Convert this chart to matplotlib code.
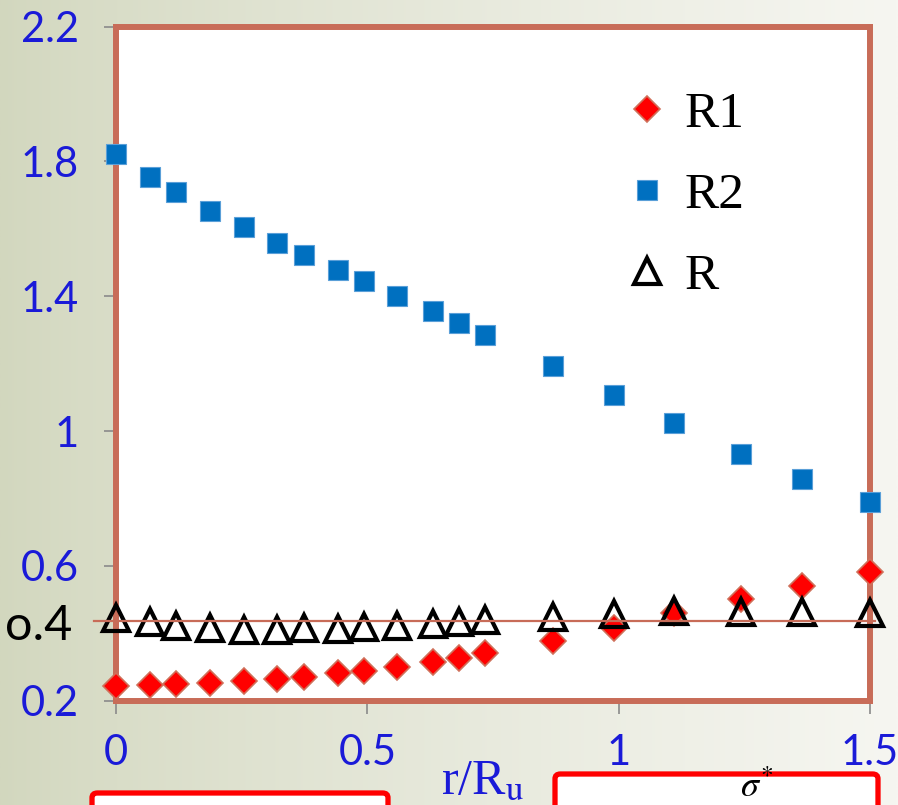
import numpy as np
import matplotlib.pyplot as plt
from matplotlib.patches import FancyBboxPatch

# data
r_pos = [0, 0.068, 0.12, 0.187, 0.255, 0.32, 0.374, 0.442, 0.493, 0.56,
         0.63, 0.683, 0.735, 0.87, 0.99, 1.11, 1.243, 1.365, 1.5]
r1_vals = [0.244, 0.247, 0.249, 0.252, 0.258, 0.265, 0.269, 0.281, 0.289, 0.301,
           0.316, 0.328, 0.342, 0.377, 0.415, 0.459, 0.502, 0.540, 0.582]
r2_vals = [1.821, 1.755, 1.710, 1.654, 1.605, 1.557, 1.523, 1.478, 1.445, 1.401,
           1.357, 1.322, 1.285, 1.193, 1.108, 1.023, 0.932, 0.857, 0.790]
r_vals = [0.446, 0.433, 0.423, 0.415, 0.410, 0.410, 0.415, 0.414, 0.418, 0.423,
          0.428, 0.434, 0.439, 0.449, 0.458, 0.465, 0.464, 0.464, 0.459]
ref_level = 0.437

x_ticks = [0, 0.5, 1, 1.5]
x_labels = ["0", "0.5", "1", "1.5"]
y_ticks = [0.2, 0.6, 1.0, 1.4, 1.8, 2.2]
y_labels = ["0.2", "0.6", "1", "1.4", "1.8", "2.2"]
legend_labels = ["R1", "R2", "R"]

plt.rcParams["mathtext.fontset"] = "stix"

W, H = 898, 805
fig = plt.figure(figsize=(W / 100, H / 100), dpi=100)

# greenish slide background gradient
bg = fig.add_axes([0, 0, 1, 1], zorder=-5)
t = np.linspace(0, 1, 300) ** 0.8
left = np.array([210, 215, 190]) / 255
right = np.array([246, 246, 241]) / 255
grad = left[None, :] * (1 - t[:, None]) + right[None, :] * t[:, None]
img = np.repeat(grad[None, :, :], 2, axis=0)
bg.imshow(img, aspect="auto", extent=[0, 1, 0, 1])
bg.axis("off")

blue = "#1a1ad8"
frame = "#c86c58"

ax = fig.add_axes([116 / W, 1 - 700.7 / H, 754 / W, 674 / H])
ax.set_facecolor("white")
ax.set_xlim(0, 1.5)
ax.set_ylim(0.2, 2.2)

ax.plot(r_pos, r1_vals, linestyle="none", marker="D", ms=13, mfc="#ff0000",
        mec="#d0705a", mew=1.2, label=legend_labels[0], zorder=3, clip_on=False)
ax.plot(r_pos, r2_vals, linestyle="none", marker="s", ms=14.5, mfc="#0070c0",
        mec="#5a9fd8", mew=0.8, label=legend_labels[1], zorder=3, clip_on=False)
ax.plot(r_pos, r_vals, linestyle="none", marker="^", ms=19, mfc="none",
        mec="black", mew=3, label=legend_labels[2], zorder=4, clip_on=False)

# reference level line
ax.plot([-0.043, 1.51], [ref_level, ref_level], color=frame, lw=1.6,
        clip_on=False, zorder=5)

for s in ax.spines.values():
    s.set_color(frame)
    s.set_linewidth(4.3)
    s.set_zorder(2.5)

ax.set_xticks(x_ticks)
ax.set_xticklabels(x_labels)
ax.set_yticks(y_ticks)
ax.set_yticklabels(y_labels)
ax.tick_params(axis="both", direction="out", length=9, width=1.2, color="#8a8a8a",
               labelcolor=blue, labelsize=30)
ax.tick_params(axis="y", pad=18)
ax.tick_params(axis="x", pad=15)
for lab in ax.get_xticklabels() + ax.get_yticklabels():
    lab.set_family("Lato")

# odd black 0.4 label
fig.text(72 / W, 1 - 640 / H, "o.4", ha="right", va="baseline",
         fontsize=35, family="Lato", color="black")

leg = ax.legend(loc="upper left", bbox_to_anchor=(632 / W, 1 - 91 / H),
                bbox_transform=fig.transFigure, frameon=False, borderpad=0,
                borderaxespad=0, handlelength=0.6, handletextpad=0.43,
                labelspacing=0.66, prop={"family": "Liberation Serif", "size": 37})

# x axis label (sits on the bottom edge)
fig.text(441 / W, 1 - 804 / H, r"r/R$_{\mathrm{u}}$", ha="left", va="bottom",
         fontsize=36, family="Liberation Serif", color=blue)

# red boxes along the bottom edge (cut off)
for x0, x1, y0 in [(92, 388, 793), (555, 878, 774)]:
    box = FancyBboxPatch((x0 / W, -0.05), (x1 - x0) / W, (H - y0) / H + 0.05,
                         boxstyle="round,pad=0,rounding_size=0.006",
                         transform=fig.transFigure, facecolor="white",
                         edgecolor="#ff0000", lw=3.8, zorder=2)
    fig.patches.append(box)

fig.text(740 / W, 1 - 804 / H, r"$\sigma^{*}$", ha="left", va="bottom",
         fontsize=26, color="black")

fig.savefig("out.png", dpi=100)
